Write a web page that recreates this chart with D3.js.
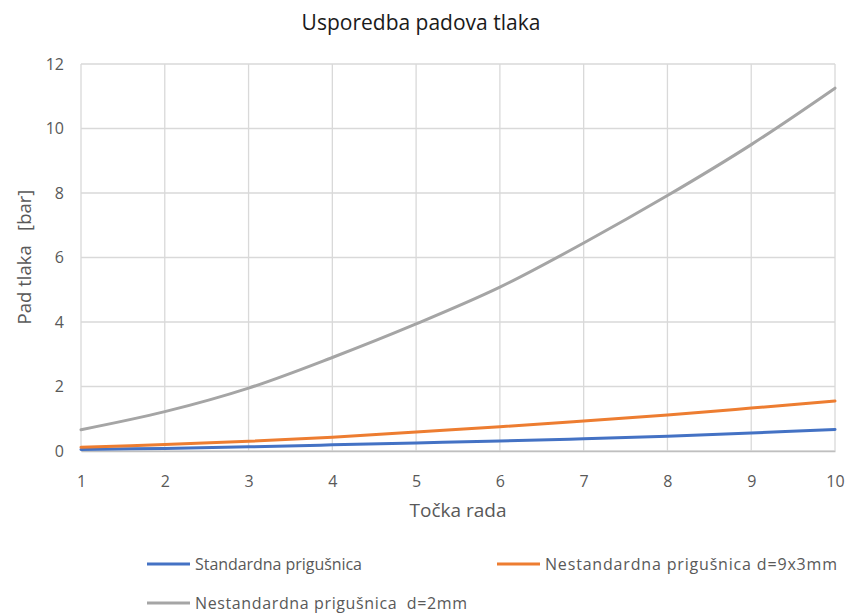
<!DOCTYPE html>
<html><head><meta charset="utf-8">
<script src="https://cdn.jsdelivr.net/npm/d3@7"></script>
<style>body{margin:0;background:#fff;}svg{display:block;font-family:"Open Sans",sans-serif;}</style>
</head><body><svg id="c" width="847" height="613"></svg>
<script>
const xValues = [1,2,3,4,5,6,7,8,9,10];
const standard = [0.05,0.08,0.13,0.19,0.25,0.31,0.38,0.46,0.56,0.67];
const nestd9x3 = [0.12,0.20,0.30,0.43,0.59,0.75,0.93,1.12,1.33,1.55];
const nestd2 = [0.66,1.22,1.95,2.90,3.94,5.08,6.45,7.92,9.50,11.25];
const yTicks = [0,2,4,6,8,10,12];
const seriesNames = ["Standardna prigušnica","Nestandardna prigušnica d=9x3mm","Nestandardna prigušnica  d=2mm"];
const colors = ["#4472c4","#ed7d31","#a5a5a5"];

const svg = d3.select("#c");
const x = d3.scaleLinear().domain([1,10]).range([81,835]);
const y = d3.scaleLinear().domain([0,12]).range([451,64]);
const grid = "#d9d9d9";

svg.append("g").selectAll("line").data(yTicks).join("line")
  .attr("x1",x(1)).attr("x2",x(10)).attr("y1",d=>y(d)).attr("y2",d=>y(d))
  .attr("stroke",grid).attr("stroke-width",1.3);
svg.append("g").selectAll("line").data(xValues).join("line")
  .attr("x1",d=>x(d)).attr("x2",d=>x(d)).attr("y1",y(0)).attr("y2",y(12))
  .attr("stroke",grid).attr("stroke-width",1.3);

const xAxis = d3.axisBottom(x).tickValues(xValues).tickSize(0).tickPadding(0);
const gx = svg.append("g").attr("transform",`translate(0,${y(0)})`).call(xAxis);
gx.select(".domain").attr("stroke","#bfbfbf").attr("stroke-width",1.3);
gx.selectAll("text").attr("dy",0).attr("y",36).attr("fill","#595959").style("font-size","16px").style("font-family","Open Sans");
const yAxis = d3.axisLeft(y).tickValues(yTicks).tickSize(0).tickPadding(0);
const gy = svg.append("g").attr("transform",`translate(${x(1)},0)`).call(yAxis);
gy.select(".domain").remove();
gy.selectAll("text").attr("x",-17).attr("fill","#595959").style("font-size","16px").style("font-family","Open Sans");

const line = d3.line().x((d,i)=>x(xValues[i])).y(d=>y(d)).curve(d3.curveCatmullRom.alpha(0.5));
[standard,nestd9x3,nestd2].forEach((s,i)=>{
  svg.append("path").datum(s).attr("d",line).attr("fill","none")
    .attr("stroke",colors[i]).attr("stroke-width",3).attr("stroke-linecap","round");
});

svg.append("text").attr("x",421).attr("y",30).attr("text-anchor","middle")
  .attr("fill","#1a1a1a").style("font-size","21px").text("Usporedba padova tlaka");
svg.append("text").attr("x",458).attr("y",517).attr("text-anchor","middle")
  .attr("fill","#595959").style("font-size","19px").text("Točka rada");
svg.append("text").attr("transform","translate(31,257) rotate(-90)").attr("text-anchor","middle")
  .attr("fill","#595959").style("font-size","18.5px").attr("xml:space","preserve").text("Pad tlaka   [bar]");

const legPos = [[147,564],[497,564],[147,603]];
const legWidths = [167,292,272];
seriesNames.forEach((n,i)=>{
  const [lx,ly]=legPos[i];
  svg.append("line").attr("x1",lx).attr("x2",lx+43).attr("y1",ly).attr("y2",ly)
    .attr("stroke",colors[i]).attr("stroke-width",3);
  svg.append("text").attr("x",lx+48).attr("y",ly+6).attr("fill","#595959")
    .attr("xml:space","preserve").attr("textLength",legWidths[i]).attr("lengthAdjust","spacing")
    .style("font-size","16px").text(n);
});
</script></body></html>
